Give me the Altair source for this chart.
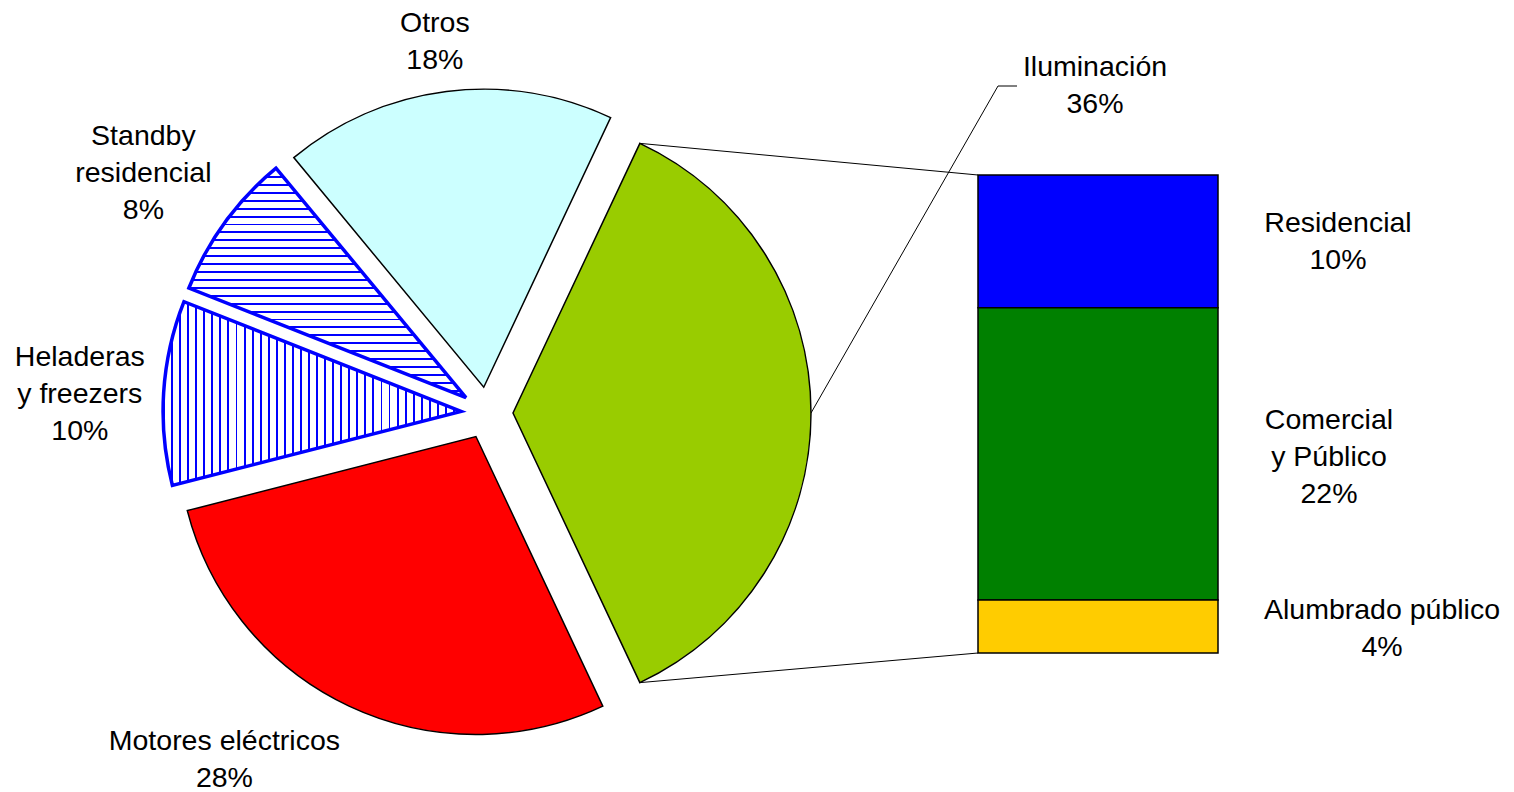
import math
import altair as alt
import pandas as pd

# ---------------- data ----------------
pie_cats = ["Iluminación", "Motores eléctricos", "Heladeras y freezers", "Standby residencial", "Otros"]
pie_labels = ["Iluminación", "Motores eléctricos", "Heladeras\ny freezers", "Standby\nresidencial", "Otros"]
pie_vals = [36, 28, 10, 8, 18]

bar_cats = ["Residencial", "Comercial y Público", "Alumbrado público"]
bar_labels = ["Residencial", "Comercial\ny Público", "Alumbrado público"]
bar_vals = [10, 22, 4]

# ---------------- layout / style ----------------
W, H = 1514, 792
CX, CY = 487, 413
R = 298
EXPLODE = 26
BAR_X = [978, 1218]
BAR_Y = [653, 175]
FONT = "Liberation Sans"
FS = 28.5
LH = 37

solid_colors = {"Iluminación": "#99CC00", "Motores eléctricos": "#FF0000", "Otros": "#CCFFFF"}
bar_colors = ["#0000FF", "#008000", "#FFCC00"]

total = sum(pie_vals)
bar_total = sum(bar_vals)
a0 = math.pi / 2 - math.pi * pie_vals[0] / total  # first slice centred at 3 o'clock
theta_scale = alt.Scale(domain=[0, total], range=[a0, a0 + 2 * math.pi])

pie_df = pd.DataFrame({"cat": pie_cats, "label": pie_labels, "value": pie_vals,
                       "idx": list(range(len(pie_cats)))})

base = alt.Chart(pie_df).transform_window(
    c1="sum(value)", sort=[alt.SortField("idx")], frame=[None, 0]
).transform_calculate(
    c0="datum.c1 - datum.value"
).transform_calculate(
    cm="datum.c1 - datum.value / 2"
).transform_calculate(
    ang=f"{a0} + 2 * PI * datum.cm / {total}"
).transform_calculate(
    xc=f"{CX} + {EXPLODE} * sin(datum.ang)"
).transform_calculate(
    yc=f"{CY} - {EXPLODE} * cos(datum.ang)"
).transform_calculate(
    txt="datum.label + '\\n' + datum.value + '%'"
)

arc_enc = dict(
    theta=alt.Theta("c0:Q", scale=theta_scale, stack=None),
    theta2=alt.Theta2("c1:Q"),
    x=alt.X("xc:Q", scale=None, axis=None),
    y=alt.Y("yc:Q", scale=None, axis=None),
)

solid = base.transform_filter(
    alt.FieldOneOfPredicate(field="cat", oneOf=list(solid_colors.keys()))
).mark_arc(radius=R, stroke="black", strokeWidth=1.5).encode(
    fill=alt.Fill("cat:N", scale=alt.Scale(domain=list(solid_colors.keys()),
                                           range=list(solid_colors.values())), legend=None),
    **arc_enc,
)


def stripes(n, w, vertical_lines):
    stops = []
    for k in range(n):
        s = round(k / n, 5)
        e = round((k + w) / n, 5)
        t = round((k + 1) / n, 5)
        stops += [alt.GradientStop(color="#0000FF", offset=s),
                  alt.GradientStop(color="#0000FF", offset=e),
                  alt.GradientStop(color="#FFFFFF", offset=e),
                  alt.GradientStop(color="#FFFFFF", offset=t)]
    if vertical_lines:
        return alt.LinearGradient(gradient="linear", stops=stops, x1=0, x2=1, y1=0, y2=0)
    return alt.LinearGradient(gradient="linear", stops=stops, x1=0, x2=0, y1=0, y2=1)


hel = base.transform_filter(alt.datum.cat == "Heladeras y freezers").mark_arc(
    radius=R, fill=stripes(37, 0.24, True), stroke="#0000FF", strokeWidth=3.5
).encode(**arc_enc)

stb = base.transform_filter(alt.datum.cat == "Standby residencial").mark_arc(
    radius=R, fill=stripes(29, 0.24, False), stroke="#0000FF", strokeWidth=3.5
).encode(**arc_enc)


def center_dy(text):
    # vertically centre a multi-line label on its anchor
    return -(text.count("\n")) * LH / 2


# pie labels (polar placement around each exploded slice)
label_style = {
    "Otros": dict(radius=350, dx=-5, dy=2),
    "Standby residencial": dict(radius=395, dx=-3, dy=7),
    "Heladeras y freezers": dict(radius=382, dx=0, dy=7),
    "Motores eléctricos": dict(radius=370, dx=-94, dy=-12),
}
text_layers = []
for cat, st in label_style.items():
    lbl = pie_labels[pie_cats.index(cat)] + "\n%"
    st = dict(st)
    st["dy"] = st["dy"] + center_dy(lbl)
    text_layers.append(
        base.transform_filter(alt.datum.cat == cat).mark_text(
            font=FONT, fontSize=FS, lineHeight=LH, lineBreak="\n", align="center",
            baseline="middle", color="black", **st
        ).encode(
            theta=alt.Theta("cm:Q", scale=theta_scale, stack=None),
            x=alt.X("xc:Q", scale=None, axis=None),
            y=alt.Y("yc:Q", scale=None, axis=None),
            text="txt:N",
        )
    )

# Iluminación label (with leader line)
ilum_dx, ilum_dy = 582, -330
ilum_text = base.transform_filter(alt.datum.cat == "Iluminación").mark_text(
    font=FONT, fontSize=FS, lineHeight=LH, lineBreak="\n", align="center",
    baseline="middle", color="black", dx=ilum_dx,
    dy=ilum_dy + 2 + center_dy(pie_labels[0] + "\n%")
).encode(
    x=alt.X("xc:Q", scale=None, axis=None),
    y=alt.Y("yc:Q", scale=None, axis=None),
    text="txt:N",
)

# geometry of the green (first) slice derived from the data
g_mid = a0 + math.pi * pie_vals[0] / total
gx = CX + EXPLODE * math.sin(g_mid)
gy = CY - EXPLODE * math.cos(g_mid)
g_start = a0
g_end = a0 + 2 * math.pi * pie_vals[0] / total


def bar_y(v):
    return BAR_Y[0] + (BAR_Y[1] - BAR_Y[0]) * v / bar_total


conn_df = pd.DataFrame({
    "x": [gx + R * math.sin(g_start), gx + R * math.sin(g_end)],
    "y": [gy - R * math.cos(g_start), gy - R * math.cos(g_end)],
    "x2": [BAR_X[0], BAR_X[0]],
    "y2": [bar_y(bar_total), bar_y(0)],
})
connectors = alt.Chart(conn_df).mark_rule(color="black", strokeWidth=1).encode(
    x=alt.X("x:Q", scale=None, axis=None), y=alt.Y("y:Q", scale=None, axis=None),
    x2="x2:Q", y2="y2:Q",
)

lab_x = gx + ilum_dx
lab_y = gy + ilum_dy
leader_df = pd.DataFrame({
    "x": [gx + R * math.sin(g_mid), lab_x - 97, lab_x - 78],
    "y": [gy - R * math.cos(g_mid), lab_y + 3, lab_y + 3],
    "o": [0, 1, 2],
})
leader = alt.Chart(leader_df).mark_line(color="black", strokeWidth=1).encode(
    x=alt.X("x:Q", scale=None, axis=None), y=alt.Y("y:Q", scale=None, axis=None), order="o:Q"
)

# ---------------- bar of pie ----------------
bar_df = pd.DataFrame({"cat": bar_cats, "label": bar_labels, "value": bar_vals,
                       "ord": list(range(len(bar_cats), 0, -1)), "grp": pie_cats[0]})
xs = alt.Scale(range=BAR_X, paddingInner=0, paddingOuter=0)
ys = alt.Scale(domain=[0, bar_total], range=BAR_Y, nice=False, zero=True)

bar_base = alt.Chart(bar_df).transform_window(
    b1="sum(value)", sort=[alt.SortField("ord")], frame=[None, 0]
).transform_calculate(
    b0="datum.b1 - datum.value"
).transform_calculate(
    bm="datum.b1 - datum.value / 2"
).transform_calculate(
    txt="datum.label + '\\n' + datum.value + '%'"
)

bars = bar_base.mark_bar(stroke="black", strokeWidth=1.5).encode(
    x=alt.X("grp:N", scale=xs, axis=None),
    y=alt.Y("b0:Q", scale=ys, axis=None),
    y2="b1:Q",
    fill=alt.Fill("cat:N", scale=alt.Scale(domain=bar_cats, range=bar_colors), legend=None),
)

bar_label_style = {"Residencial": dict(dx=240, dy=0),
                   "Comercial y Público": dict(dx=231, dy=3),
                   "Alumbrado público": dict(dx=284, dy=2)}
bar_text_layers = []
for cat, st in bar_label_style.items():
    lbl = bar_labels[bar_cats.index(cat)] + "\n%"
    bar_text_layers.append(
        bar_base.transform_filter(alt.datum.cat == cat).mark_text(
            font=FONT, fontSize=FS, lineHeight=LH, lineBreak="\n", align="center",
            baseline="middle", color="black", dx=st["dx"], dy=st["dy"] + center_dy(lbl)
        ).encode(
            x=alt.X("grp:N", scale=xs, axis=None),
            y=alt.Y("bm:Q", scale=ys, axis=None),
            text="txt:N",
        )
    )

chart = alt.layer(
    connectors, leader, solid, hel, stb, bars, ilum_text, *text_layers, *bar_text_layers
).resolve_scale(
    fill="independent"
).properties(
    width=W, height=H, padding=0, autosize="none", background="white"
).configure_view(stroke=None)

chart.save("out.html", embed_options={"renderer": "svg", "actions": False})
